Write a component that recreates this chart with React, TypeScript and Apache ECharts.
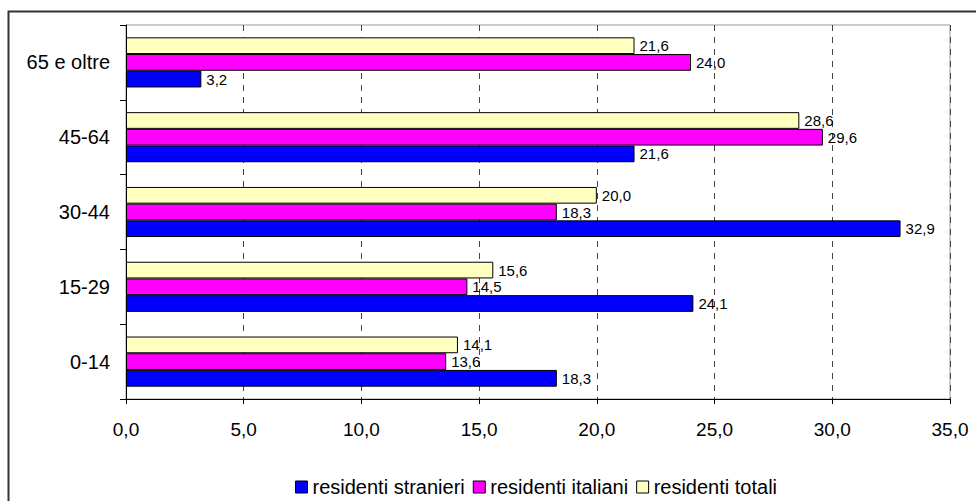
import React, { useEffect, useRef } from "react";
import * as echarts from "echarts";

const categories = ["0-14", "15-29", "30-44", "45-64", "65 e oltre"];
const stranieri = [18.3, 24.1, 32.9, 21.6, 3.2];
const italiani = [13.6, 14.5, 18.3, 29.6, 24.0];
const totali = [14.1, 15.6, 20.0, 28.6, 21.6];
const seriesNames = ["residenti stranieri", "residenti italiani", "residenti totali"];

const fmt = (v: number) => v.toFixed(1).replace(".", ",");
const FONT = "'Liberation Sans', Arial, sans-serif";

export default function App() {
  const ref = useRef<HTMLDivElement>(null);
  useEffect(() => {
    document.body.style.margin = "0";
    const chart = echarts.init(ref.current!, null, { renderer: "svg" });
    const mk = (name: string, data: number[], color: string) => ({
      name,
      type: "bar",
      data,
      barGap: "0%",
      barCategoryGap: "33%",
      itemStyle: { color, borderColor: "#000", borderWidth: 1 },
      label: {
        show: true,
        position: "right",
        distance: 5,
        fontSize: 15,
        fontFamily: FONT,
        color: "#000",
        formatter: (p: any) => fmt(p.value),
      },
    });
    chart.setOption({
      animation: false,
      backgroundColor: "#fff",
      textStyle: { fontFamily: FONT },
      graphic: [
        {
          type: "rect",
          left: 6,
          top: 9,
          shape: { width: 990, height: 520 },
          style: { fill: "none", stroke: "#333", lineWidth: 2 },
          silent: true,
        },
      ],
      grid: {
        left: 126,
        top: 25,
        width: 824,
        height: 374,
        show: true,
        borderColor: "#999",
        borderWidth: 1,
        containLabel: false,
      },
      legend: {
        top: 477,
        left: 295,
        padding: 0,
        itemWidth: 12,
        itemHeight: 12,
        itemGap: 8,
        icon: "rect",
        itemStyle: { borderColor: "#000", borderWidth: 1 },
        textStyle: { fontSize: 20, lineHeight: 20, color: "#000", fontFamily: FONT },
        data: seriesNames,
      },
      xAxis: {
        type: "value",
        min: 0,
        max: 35,
        interval: 5,
        axisLine: { show: true, lineStyle: { color: "#000", width: 1 } },
        axisTick: { show: true, length: 5, lineStyle: { color: "#000" } },
        axisLabel: {
          fontSize: 19,
          color: "#000",
          margin: 21,
          fontFamily: FONT,
          formatter: (v: number) => fmt(v),
        },
        splitLine: {
          show: true,
          lineStyle: { color: "#444", type: [6, 6], width: 1 },
        },
      },
      yAxis: {
        type: "category",
        data: categories,
        axisLine: { show: true, lineStyle: { color: "#000", width: 1 } },
        axisTick: { show: true, length: 6, lineStyle: { color: "#000" } },
        axisLabel: { fontSize: 20, color: "#000", margin: 16, fontFamily: FONT },
        splitLine: { show: false },
      },
      series: [
        mk(seriesNames[2], totali, "#FFFFC0"),
        mk(seriesNames[1], italiani, "#FF00FF"),
        mk(seriesNames[0], stranieri, "#0000FF"),
      ],
    });
    return () => chart.dispose();
  }, []);
  return (
    <div
      ref={ref}
      style={{ width: 976, height: 501, position: "absolute", left: 0, top: 0 }}
    />
  );
}
